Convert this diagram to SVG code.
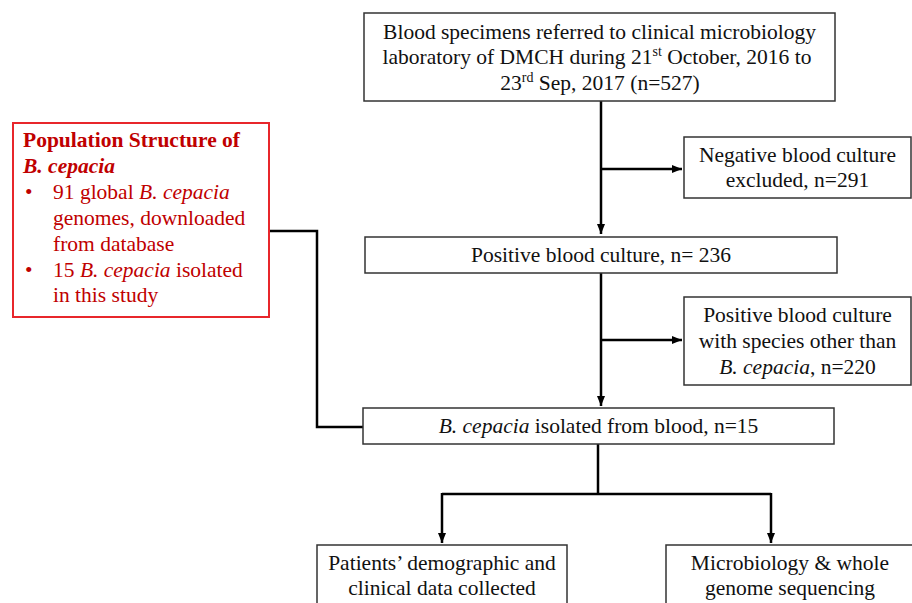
<svg xmlns="http://www.w3.org/2000/svg" width="912" height="603" viewBox="0 0 912 603">
<defs>
<marker id="ah" markerWidth="10" markerHeight="10" viewBox="0 0 10 10" refX="10" refY="5" orient="auto" markerUnits="userSpaceOnUse">
<path d="M0,1 L10,5 L0,9 Z" fill="#000"/>
</marker>
<style>
.box{fill:#fff;stroke:#333;stroke-width:1.5}
.rbox{fill:#fff;stroke:#e8262b;stroke-width:2}
.t{font-family:"Liberation Serif","Times New Roman",serif;font-size:21.5px;fill:#111;text-anchor:middle}
.r{font-family:"Liberation Serif","Times New Roman",serif;font-size:21.5px;fill:#c00000}
.c{fill:none;stroke:#000;stroke-width:2.5}
.i{font-style:italic}
.b{font-weight:bold}
.sup{font-size:14px}
</style>
</defs>
<rect width="912" height="603" fill="#fff"/>

<g id="connectors">
<path class="c" d="M601,101 V234" marker-end="url(#ah)"/>
<path class="c" d="M601,169 H682" marker-end="url(#ah)"/>
<path class="c" d="M601,273 V406" marker-end="url(#ah)"/>
<path class="c" d="M601,340 H682" marker-end="url(#ah)"/>
<path class="c" d="M598,444 V494"/>
<path class="c" d="M442,494 H771"/>
<path class="c" d="M442,493 V543" marker-end="url(#ah)"/>
<path class="c" d="M771,493 V543" marker-end="url(#ah)"/>
<path class="c" d="M269,231 H317 V427 H363"/>
</g>

<g id="n_blood">
<rect class="box" x="364" y="13" width="471" height="88"/>
<text class="t" x="599.5" y="39">Blood specimens referred to clinical microbiology</text>
<text class="t" x="597" y="64">laboratory of DMCH during 21<tspan class="sup" dy="-8">st</tspan><tspan dy="8"> October, 2016 to</tspan></text>
<text class="t" x="600" y="90">23<tspan class="sup" dy="-8">rd</tspan><tspan dy="8"> Sep, 2017 (n=527)</tspan></text>
</g>

<g id="n_negative">
<rect class="box" x="684" y="137" width="227" height="61"/>
<text class="t" x="797.5" y="162">Negative blood culture</text>
<text class="t" x="797.5" y="187">excluded, n=291</text>
</g>

<g id="n_positive">
<rect class="box" x="365" y="237" width="472" height="36"/>
<text class="t" x="601" y="262">Positive blood culture, n= 236</text>
</g>

<g id="n_other">
<rect class="box" x="684" y="297" width="227" height="88"/>
<text class="t" x="797.5" y="322">Positive blood culture</text>
<text class="t" x="797.5" y="348">with species other than</text>
<text class="t" x="797.5" y="374"><tspan class="i">B. cepacia</tspan>, n=220</text>
</g>

<g id="n_bcepacia">
<rect class="box" x="363" y="408" width="471" height="36"/>
<text class="t" x="598.5" y="433"><tspan class="i">B. cepacia</tspan> isolated from blood, n=15</text>
</g>

<g id="n_patients">
<rect class="box" x="317" y="545" width="250" height="70"/>
<text class="t" x="442" y="570">Patients’ demographic and</text>
<text class="t" x="442" y="595">clinical data collected</text>
</g>

<g id="n_micro">
<rect class="box" x="666" y="545" width="260" height="70"/>
<text class="t" x="790" y="570">Microbiology &amp; whole</text>
<text class="t" x="790" y="595">genome sequencing</text>
</g>

<g id="n_population">
<rect class="rbox" x="13" y="123" width="256" height="194"/>
<text class="r b" x="23" y="147">Population Structure of</text>
<text class="r b i" x="23" y="173">B. cepacia</text>
<text class="r" x="25" y="199">•</text>
<text class="r" x="53" y="199">91 global <tspan class="i">B. cepacia</tspan></text>
<text class="r" x="53" y="225">genomes, downloaded</text>
<text class="r" x="53" y="251">from database</text>
<text class="r" x="25" y="277">•</text>
<text class="r" x="53" y="277">15 <tspan class="i">B. cepacia</tspan> isolated</text>
<text class="r" x="53" y="302">in this study</text>
</g>
</svg>
